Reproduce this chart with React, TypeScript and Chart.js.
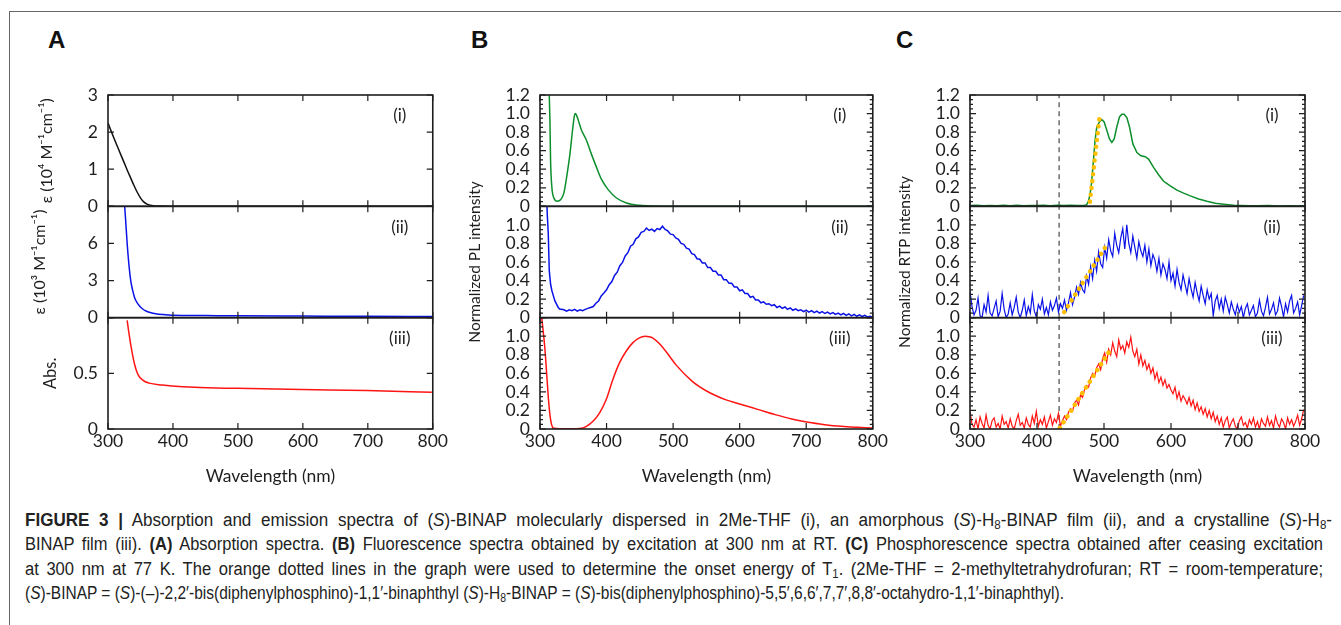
import React, { useEffect, useRef } from "react";
import { Chart, registerables } from "chart.js";

Chart.register(...registerables);

const FONT = "Lato, 'Open Sans', 'DejaVu Sans', sans-serif";
const INK = "#1e1e1e";

// ---------- shared wavelength axis ----------
const wlMin = 300;
const wlMax = 800;
const wlStep = 100;
const panelTags = ["(i)", "(ii)", "(iii)"];

// ---------- (A) absorption spectra [wavelength nm, value] ----------
const absThf: [number, number][] = [
  [300, 2.25], [305, 2.02], [310, 1.8], [315, 1.59], [320, 1.38], [325, 1.17], [330, 0.96],
  [335, 0.76], [340, 0.56], [345, 0.38], [350, 0.23], [355, 0.12], [360, 0.06], [365, 0.03],
  [370, 0.015], [380, 0.008], [400, 0.005], [450, 0.003], [500, 0.0], [800, 0.0],
];
const absAmorph: [number, number][] = [
  [325, 9.5], [327, 8.0], [329.5, 6.0], [332, 4.4], [335, 3.0], [338, 2.2], [341, 1.62],
  [345, 1.2], [348.5, 0.95], [353, 0.72], [358.5, 0.54], [365, 0.42], [373.5, 0.32],
  [385, 0.25], [398.5, 0.2], [450, 0.17], [500, 0.15], [600, 0.13], [700, 0.11], [800, 0.1],
];
const absCryst: [number, number][] = [
  [329.5, 0.975], [332, 0.871], [336, 0.725], [341, 0.579], [346, 0.491], [353.5, 0.439],
  [363.5, 0.412], [383.5, 0.395], [398.5, 0.386], [433.5, 0.374], [498.5, 0.365],
  [598.5, 0.354], [698.5, 0.345], [798.5, 0.33],
];

// ---------- (B) fluorescence spectra ----------
const plThf: [number, number][] = [
  [312.5, 1.5], [313.9, 1.2], [314.9, 0.93], [315.9, 0.49], [317.9, 0.2], [320.9, 0.09],
  [325.9, 0.055], [330.9, 0.07], [335.9, 0.145], [339.9, 0.31], [344.9, 0.56], [348.9, 0.82],
  [351.5, 0.97], [353, 1.0], [355, 0.98], [357.4, 0.93], [362.4, 0.82], [369.9, 0.71],
  [377.4, 0.56], [384.9, 0.42], [392.4, 0.29], [402.4, 0.18], [414.9, 0.09], [429.9, 0.036],
  [449.8, 0.011], [469.7, 0.004], [500, 0.002], [600, 0.0], [800, 0.0],
];
const plAmorphHead: [number, number][] = [
  [309.5, 1.4], [311, 1.1], [312.4, 0.91], [313.9, 0.51], [315.9, 0.36], [317.9, 0.29],
  [319.9, 0.24], [322.4, 0.18], [324.9, 0.145], [327.4, 0.11], [329.9, 0.09],
];
const plAmorphStart = 332;
const plAmorphStepNm = 4;
const plAmorph = [
  0.09, 0.085, 0.07, 0.085, 0.075, 0.09, 0.07, 0.085, 0.075, 0.09,
  0.10, 0.11, 0.12, 0.155, 0.18, 0.235, 0.265, 0.30, 0.355, 0.39,
  0.455, 0.49, 0.56, 0.595, 0.665, 0.70, 0.77, 0.79, 0.85, 0.87,
  0.92, 0.93, 0.965, 0.94, 0.955, 0.93, 0.96, 0.95, 0.985, 0.95,
  0.935, 0.90, 0.895, 0.86, 0.845, 0.80, 0.79, 0.75, 0.74, 0.69,
  0.68, 0.635, 0.63, 0.59, 0.59, 0.54, 0.54, 0.50, 0.50, 0.46,
  0.46, 0.41, 0.41, 0.37, 0.37, 0.33, 0.33, 0.29, 0.30, 0.26,
  0.26, 0.22, 0.23, 0.19, 0.19, 0.16, 0.17, 0.145, 0.15, 0.13,
  0.14, 0.11, 0.125, 0.10, 0.115, 0.09, 0.105, 0.08, 0.095, 0.075,
  0.085, 0.065, 0.08, 0.06, 0.075, 0.055, 0.07, 0.05, 0.065, 0.045,
  0.06, 0.04, 0.055, 0.035, 0.05, 0.03, 0.045, 0.025, 0.04, 0.02,
  0.035, 0.015, 0.03, 0.012, 0.025, 0.008, 0.015, 0.003,
];
const plCryst: [number, number][] = [
  [300, 1.3], [302.5, 1.2], [305, 1.04], [307.5, 0.856], [310, 0.6], [312.4, 0.35],
  [314.9, 0.155], [317.4, 0.047], [320.9, 0.007], [330, 0.003], [345, 0.002], [360, 0.005],
  [369.7, 0.029], [379.6, 0.083], [389.6, 0.173], [399.5, 0.317], [409.4, 0.532],
  [419.4, 0.712], [429.4, 0.838], [439.3, 0.928], [449.3, 0.982], [458, 1.0], [464, 0.995],
  [469.1, 0.982], [479.1, 0.921], [489, 0.838], [504, 0.694], [528.8, 0.514], [553.7, 0.396],
  [578.6, 0.317], [598.5, 0.273], [628.4, 0.209], [653.3, 0.155], [678.1, 0.108],
  [703, 0.072], [727.9, 0.047], [752.7, 0.029], [777.6, 0.018], [797.5, 0.011], [800, 0.01],
];

// ---------- (C) phosphorescence spectra ----------
const rtpThf: [number, number][] = [
  [300, 0.008], [310, 0.012], [320, 0.006], [330, 0.01], [340, 0.005], [350, 0.011],
  [360, 0.007], [370, 0.012], [380, 0.006], [390, 0.01], [400, 0.008], [410, 0.013],
  [420, 0.007], [430, 0.011], [440, 0.009], [450, 0.012], [460, 0.008], [470, 0.01],
  [474.2, 0.018], [476.7, 0.055], [479.2, 0.127], [481.7, 0.27], [484.2, 0.49], [486.7, 0.71],
  [489.2, 0.855], [493.2, 0.91], [496.7, 0.935], [500.2, 0.91], [504.2, 0.82], [508.2, 0.727],
  [511.7, 0.69], [515.2, 0.727], [519.1, 0.855], [523.1, 0.964], [526.6, 0.993], [530.1, 0.993],
  [534.1, 0.956], [538.1, 0.855], [543.1, 0.673], [549.1, 0.58], [555.1, 0.545], [561.5, 0.535],
  [566.5, 0.51], [574, 0.42], [581.5, 0.34], [589, 0.27], [598.9, 0.22], [608.9, 0.175],
  [618.8, 0.142], [628.8, 0.113], [641.2, 0.08], [653.6, 0.055], [666.1, 0.033], [678.5, 0.022],
  [693.4, 0.011], [705, 0.009], [718.3, 0.007], [730, 0.006], [745, 0.008], [760, 0.004],
  [775, 0.007], [790, 0.003], [800, 0.004],
];
const rtpStart = 300;
const rtpStepNm = 3;
const rtpAmorph = [
  0.28, 0.12, 0.03, 0.08, 0.21, 0.02, 0.00, 0.14, 0.06, 0.24,
  0.05, 0.02, 0.10, 0.18, 0.01, 0.07, 0.26, 0.09, 0.00, 0.04,
  0.16, 0.03, 0.11, 0.22, 0.06, 0.00, 0.08, 0.19, 0.02, 0.12,
  0.05, 0.25, 0.07, 0.01, 0.14, 0.09, 0.20, 0.04, 0.11, 0.03,
  0.17, 0.08, 0.13, 0.21, 0.06, 0.15, 0.10, 0.19, 0.08, 0.16,
  0.27, 0.14, 0.22, 0.33, 0.25, 0.38, 0.30, 0.27, 0.45, 0.36,
  0.55, 0.42, 0.62, 0.50, 0.71, 0.58, 0.54, 0.76, 0.64, 0.84,
  0.72, 0.66, 0.91, 0.78, 0.70, 0.86, 0.96, 0.74, 1.00, 0.80,
  0.70, 0.88, 0.76, 0.64, 0.82, 0.72, 0.66, 0.78, 0.60, 0.74,
  0.56, 0.68, 0.62, 0.50, 0.64, 0.46, 0.58, 0.52, 0.42, 0.60,
  0.40, 0.48, 0.34, 0.52, 0.38, 0.30, 0.46, 0.36, 0.26, 0.42,
  0.31, 0.22, 0.38, 0.27, 0.18, 0.34, 0.24, 0.15, 0.30, 0.20,
  0.26, 0.02, 0.18, 0.24, 0.10, 0.20, 0.07, 0.22, 0.14, 0.05,
  0.17, 0.09, 0.03, 0.14, 0.06, 0.12, 0.00, 0.10, 0.15, 0.03,
  0.08, 0.13, 0.01, 0.05, 0.19, 0.07, 0.02, 0.11, 0.22, 0.04,
  0.09, 0.16, 0.03, 0.07, 0.21, 0.12, 0.01, 0.15, 0.06, 0.18,
  0.24, 0.05, 0.10, 0.17, 0.03, 0.13, 0.24,
];
const rtpCryst = [
  0.19, 0.05, 0.02, 0.10, 0.00, 0.13, 0.06, 0.01, 0.15, 0.04,
  0.00, 0.09, 0.12, 0.02, 0.06, 0.00, 0.14, 0.05, 0.08, 0.01,
  0.11, 0.03, 0.00, 0.09, 0.16, 0.04, 0.07, 0.01, 0.12, 0.05,
  0.02, 0.14, 0.06, 0.19, 0.03, 0.10, 0.05, 0.13, 0.01, 0.08,
  0.15, 0.04, 0.11, 0.07, 0.17, 0.03, 0.09, 0.14, 0.10, 0.18,
  0.22, 0.19, 0.28, 0.31, 0.26, 0.37, 0.34, 0.43, 0.47, 0.45,
  0.55, 0.60, 0.57, 0.66, 0.70, 0.64, 0.76, 0.82, 0.72, 0.86,
  0.80, 0.93, 0.84, 0.78, 0.96, 0.86, 0.90, 0.82, 0.94, 0.88,
  0.99, 0.84, 0.78, 0.86, 0.70, 0.80, 0.68, 0.74, 0.64, 0.70,
  0.60, 0.66, 0.54, 0.61, 0.50, 0.56, 0.47, 0.53, 0.44, 0.48,
  0.42, 0.38, 0.45, 0.33, 0.40, 0.30, 0.36, 0.32, 0.27, 0.34,
  0.25, 0.31, 0.21, 0.28, 0.19, 0.24, 0.16, 0.22, 0.13, 0.20,
  0.11, 0.18, 0.08, 0.14, 0.05, 0.12, 0.02, 0.09, 0.13, 0.01,
  0.07, 0.11, 0.03, 0.00, 0.09, 0.13, 0.04, 0.07, 0.01, 0.10,
  0.05, 0.12, 0.02, 0.08, 0.00, 0.11, 0.06, 0.03, 0.13, 0.04,
  0.09, 0.01, 0.14, 0.06, 0.02, 0.11, 0.07, 0.00, 0.12, 0.05,
  0.10, 0.03, 0.08, 0.15, 0.04, 0.11, 0.21,
];
// orange onset fits and T1 onset marker
const onsetThf: [number, number][] = [[479, 0.05], [493, 0.94]];
const onsetAmorph: [number, number][] = [[440.5, 0.06], [506.5, 0.81]];
const onsetCryst: [number, number][] = [[434, 0.01], [511.5, 0.875]];
const t1OnsetNm = 433;

// ---------- colours ----------
const C_BLACK = "#111111";
const C_BLUE = "#0a12e6";
const C_RED = "#ff1414";
const C_GREEN = "#0c8f2c";
const C_ORANGE = "#ffbf00";
const C_DASH = "#555555";

const pairs = (arr: [number, number][]) => arr.map(([x, y]) => ({ x, y }));
const grid = (start: number, step: number, vals: number[]) =>
  vals.map((y, i) => ({ x: start + i * step, y }));

const fmt1 = (v: number) => (v === 0 ? "0" : v.toFixed(1));
const fmtInt = (v: number) => String(Math.round(v));
const fmtHalf = (v: number) => (v === 0 ? "0" : String(v));

type Panel = {
  id: string;
  min: number;
  max: number;
  step: number;
  hideTop: boolean;
  minor?: number;
  tag: string;
  fmt: (v: number) => string;
  title?: string;
  titlePad?: number;
  titleSize?: number;
};

type Column = {
  left: number;
  top: number;
  width: number;
  height: number;
  padTop: number;
  padRight: number;
  yWidth: number;
  xHeight: number;
  panels: Panel[];
  datasets: any[];
};

const line = (data: any[], color: string, yAxisID: string, smooth: boolean, extra: any = {}) => ({
  data,
  borderColor: color,
  backgroundColor: color,
  borderWidth: 1.5,
  pointRadius: 0,
  yAxisID,
  order: 1,
  tension: 0,
  cubicInterpolationMode: smooth ? "monotone" : "default",
  ...extra,
});

const onsetLine = (data: [number, number][], yAxisID: string) =>
  line(pairs(data), C_ORANGE, yAxisID, false, {
    borderWidth: 4.5,
    borderDash: [0.1, 6.8],
    borderCapStyle: "round",
    order: 0,
  });

const dashLine = (yAxisID: string) =>
  line(pairs([[t1OnsetNm, 0], [t1OnsetNm, 1.2]]), C_DASH, yAxisID, false, {
    borderWidth: 1.3,
    borderDash: [5, 4],
    order: 2,
  });

const colA: Column = {
  left: 30, top: 60, width: 420, height: 430,
  padTop: 35, padRight: 9, yWidth: 78, xHeight: 61,
  panels: [
    { id: "y1", min: 0, max: 3, step: 1, hideTop: false, tag: panelTags[0], fmt: fmtInt,
      title: "ε (10⁴ M⁻¹cm⁻¹)", titlePad: 7, titleSize: 16 },
    { id: "y2", min: 0, max: 9, step: 3, hideTop: true, tag: panelTags[1], fmt: fmtInt,
      title: "ε (10³ M⁻¹cm⁻¹)", titlePad: 0, titleSize: 16 },
    { id: "y3", min: 0, max: 1, step: 0.5, hideTop: true, tag: panelTags[2], fmt: fmtHalf,
      title: "Abs.", titlePad: 11, titleSize: 16.5 },
  ],
  datasets: [
    line(pairs(absThf), C_BLACK, "y1", true),
    line(pairs(absAmorph), C_BLUE, "y2", true),
    line(pairs(absCryst), C_RED, "y3", true),
  ],
};

const colB: Column = {
  left: 460, top: 60, width: 430, height: 430,
  padTop: 35, padRight: 15, yWidth: 80, xHeight: 61,
  panels: [
    { id: "y1", min: 0, max: 1.2, step: 0.2, hideTop: false, minor: 0.05, tag: panelTags[0], fmt: fmt1 },
    { id: "y2", min: 0, max: 1.2, step: 0.2, hideTop: true, minor: 0.05, tag: panelTags[1], fmt: fmt1,
      title: "Normalized PL intensity", titlePad: 6, titleSize: 15.5 },
    { id: "y3", min: 0, max: 1.2, step: 0.2, hideTop: true, minor: 0.05, tag: panelTags[2], fmt: fmt1 },
  ],
  datasets: [
    line(pairs(plThf), C_GREEN, "y1", true),
    line([...pairs(plAmorphHead), ...grid(plAmorphStart, plAmorphStepNm, plAmorph)], C_BLUE, "y2", false),
    line(pairs(plCryst), C_RED, "y3", true),
  ],
};

const colC: Column = {
  left: 890, top: 60, width: 440, height: 430,
  padTop: 35, padRight: 25, yWidth: 80, xHeight: 61,
  panels: [
    { id: "y1", min: 0, max: 1.2, step: 0.2, hideTop: false, minor: 0.05, tag: panelTags[0], fmt: fmt1 },
    { id: "y2", min: 0, max: 1.2, step: 0.2, hideTop: true, minor: 0.05, tag: panelTags[1], fmt: fmt1,
      title: "Normalized RTP intensity", titlePad: 6, titleSize: 15.5 },
    { id: "y3", min: 0, max: 1.2, step: 0.2, hideTop: true, minor: 0.05, tag: panelTags[2], fmt: fmt1 },
  ],
  datasets: [
    onsetLine(onsetThf, "y1"),
    onsetLine(onsetAmorph, "y2"),
    onsetLine(onsetCryst, "y3"),
    line(pairs(rtpThf), C_GREEN, "y1", false),
    line(grid(rtpStart, rtpStepNm, rtpAmorph), C_BLUE, "y2", false, { borderWidth: 1.2 }),
    line(grid(rtpStart, rtpStepNm, rtpCryst), C_RED, "y3", false, { borderWidth: 1.2 }),
    dashLine("y1"),
    dashLine("y2"),
    dashLine("y3"),
  ],
};

const panelFrames = {
  id: "panelFrames",
  afterDatasetsDraw(chart: any, _args: any, opts: any) {
    const ctx = chart.ctx as CanvasRenderingContext2D;
    const xs = chart.scales.x;
    ctx.save();
    ctx.strokeStyle = INK;
    for (const p of (opts.panels || []) as Panel[]) {
      const ys = chart.scales[p.id];
      const L = xs.left, R = xs.right, T = ys.top, B = ys.bottom;
      ctx.lineWidth = 1.2;
      ctx.beginPath();
      for (const t of ys.ticks) {
        const y = ys.getPixelForValue(t.value);
        ctx.moveTo(L, y); ctx.lineTo(L + 6, y);
        ctx.moveTo(R, y); ctx.lineTo(R - 6, y);
      }
      if (p.minor) {
        const n = Math.round((ys.max - ys.min) / p.minor);
        for (let k = 1; k < n; k++) {
          const y = ys.getPixelForValue(ys.min + k * p.minor);
          ctx.moveTo(L, y); ctx.lineTo(L + 3, y);
          ctx.moveTo(R, y); ctx.lineTo(R - 3, y);
        }
      }
      for (const t of xs.ticks) {
        const x = xs.getPixelForValue(t.value);
        ctx.moveTo(x, T); ctx.lineTo(x, T + 6);
        ctx.moveTo(x, B); ctx.lineTo(x, B - 6);
      }
      ctx.stroke();
      ctx.lineWidth = 1.6;
      ctx.strokeRect(L, T, R - L, B - T);
      ctx.fillStyle = "#222";
      ctx.font = `17px ${FONT}`;
      ctx.textAlign = "center";
      ctx.textBaseline = "middle";
      ctx.fillText(p.tag, R - 33, T + 21);
    }
    ctx.restore();
  },
};

function makeChart(canvas: HTMLCanvasElement, col: Column) {
  const scales: any = {
    x: {
      type: "linear",
      position: "bottom",
      min: wlMin,
      max: wlMax,
      ticks: {
        stepSize: wlStep,
        font: { size: 17.5, family: FONT },
        color: INK,
        padding: 2,
        autoSkip: false,
        maxRotation: 0,
        callback: (v: number) => String(v),
      },
      grid: { display: false, drawTicks: false },
      border: { display: false },
      title: {
        display: true,
        text: "Wavelength (nm)",
        font: { size: 17.5, family: FONT },
        color: INK,
        padding: { top: 0, bottom: 3 },
      },
      afterFit: (s: any) => { s.height = col.xHeight; },
    },
  };
  // bottom panel first so that the top panel is stacked uppermost
  [...col.panels].reverse().forEach((p) => {
    scales[p.id] = {
      type: "linear",
      position: "left",
      stack: "col",
      stackWeight: 1,
      min: p.min,
      max: p.max,
      ticks: {
        stepSize: p.step,
        autoSkip: false,
        font: { size: 17.5, family: FONT },
        color: INK,
        padding: 10,
        callback: (v: number) => (p.hideTop && Math.abs(v - p.max) < 1e-9 ? "" : p.fmt(v)),
      },
      grid: { display: false, drawTicks: false },
      border: { display: false },
      title: p.title
        ? {
            display: true,
            text: p.title,
            font: { size: p.titleSize ?? 16, family: FONT },
            color: INK,
            padding: { top: p.titlePad ?? 0, bottom: 0 },
          }
        : { display: false },
      afterFit: (s: any) => { s.width = col.yWidth; },
    };
  });

  return new Chart(canvas, {
    type: "line",
    data: { datasets: col.datasets },
    options: {
      animation: false,
      responsive: false,
      maintainAspectRatio: false,
      devicePixelRatio: 1,
      events: [],
      layout: { padding: { left: 0, top: col.padTop, right: col.padRight, bottom: 0 } },
      plugins: {
        legend: { display: false },
        tooltip: { enabled: false },
        panelFrames: { panels: col.panels },
      } as any,
      scales,
    },
    plugins: [panelFrames as any],
  });
}

const sub = { fontSize: "0.68em", verticalAlign: "-0.28em", lineHeight: 0 } as const;

// caption line layout: top y of each line, right edge x of each line
const captionTops = [510, 534.3, 558.6, 582.9];
const captionRight = [1332, 1323, 1323, 1064];
const captionLeft = 25;

export default function App() {
  const refA = useRef<HTMLCanvasElement>(null);
  const refB = useRef<HTMLCanvasElement>(null);
  const refC = useRef<HTMLCanvasElement>(null);
  const lineRefs = [
    useRef<HTMLSpanElement>(null),
    useRef<HTMLSpanElement>(null),
    useRef<HTMLSpanElement>(null),
    useRef<HTMLSpanElement>(null),
  ];

  useEffect(() => {
    Chart.defaults.font.family = FONT;
    const charts = [
      makeChart(refA.current!, colA),
      makeChart(refB.current!, colB),
      makeChart(refC.current!, colC),
    ];
    return () => charts.forEach((c) => c.destroy());
  }, []);

  useEffect(() => {
    // last line: plain condensation to its width; lines 1-3: half-way condensation,
    // the rest of the justification taken up by word spacing
    const els = lineRefs.map((r) => r.current);
    if (els.some((e) => !e)) return;
    const w4 = els[3]!.getBoundingClientRect().width;
    if (w4 <= 0) return;
    const k4 = (captionRight[3] - captionLeft) / w4;
    els.forEach((el, i) => {
      const e = el!;
      const w = e.getBoundingClientRect().width;
      const target = captionRight[i] - captionLeft;
      let k = target / w;
      if (i < 3) {
        k = (k + k4) / 2;
        const spaces = ((e.textContent || "").match(/ /g) || []).length;
        const extra = target / k - w;
        if (spaces > 0) e.style.wordSpacing = `${extra / spaces}px`;
      }
      e.style.transform = `scaleX(${k})`;
    });
  }, []);

  const cols = [
    { ref: refA, c: colA },
    { ref: refB, c: colB },
    { ref: refC, c: colC },
  ];

  const letter = (t: string, left: number) => (
    <div
      style={{
        position: "absolute", left, top: 28, fontFamily: "'Liberation Sans', Arial, sans-serif",
        fontWeight: 700, fontSize: 24, lineHeight: "24px", color: "#111",
      }}
    >
      {t}
    </div>
  );

  const capLine = (i: number, content: React.ReactNode) => (
    <div
      style={{
        position: "absolute", left: captionLeft, top: captionTops[i], whiteSpace: "nowrap",
        lineHeight: "20px", fontFamily: "'Liberation Sans', Arial, sans-serif", fontSize: 18,
        color: "#222",
      }}
    >
      <span ref={lineRefs[i]} style={{ display: "inline-block", transformOrigin: "0 0" }}>
        {content}
      </span>
    </div>
  );

  return (
    <div
      style={{
        position: "absolute", left: 0, top: 0, width: 1341, height: 625,
        background: "#fff", overflow: "hidden",
      }}
    >
      <div
        style={{
          position: "absolute", left: 9, top: 11, width: 1400, height: 700,
          borderLeft: "1.5px solid #666", borderTop: "1.5px solid #666",
        }}
      />
      {letter("A", 48)}
      {letter("B", 471)}
      {letter("C", 896)}
      {cols.map(({ ref, c }, i) => (
        <canvas
          key={i}
          ref={ref}
          width={c.width}
          height={c.height}
          style={{ position: "absolute", left: c.left, top: c.top, width: c.width, height: c.height }}
        />
      ))}
      {capLine(0, (
        <>
          <b>FIGURE 3 |</b> Absorption and emission spectra of (<i>S</i>)-BINAP molecularly dispersed in
          2Me-THF (i), an amorphous (<i>S</i>)-H<sub style={sub}>8</sub>-BINAP film (ii), and a crystalline
          (<i>S</i>)-H<sub style={sub}>8</sub>-
        </>
      ))}
      {capLine(1, (
        <>
          BINAP film (iii). <b>(A)</b> Absorption spectra. <b>(B)</b> Fluorescence spectra obtained by
          excitation at 300 nm at RT. <b>(C)</b> Phosphorescence spectra obtained after ceasing excitation
        </>
      ))}
      {capLine(2, (
        <>
          at 300 nm at 77 K. The orange dotted lines in the graph were used to determine the onset energy of
          T<sub style={sub}>1</sub>. (2Me-THF = 2-methyltetrahydrofuran; RT = room-temperature;
        </>
      ))}
      {capLine(3, (
        <>
          (<i>S</i>)-BINAP = (<i>S</i>)-(–)-2,2′-bis(diphenylphosphino)-1,1′-binaphthyl (<i>S</i>)-H
          <sub style={sub}>8</sub>-BINAP = (<i>S</i>)-bis(diphenylphosphino)-5,5′,6,6′,7,7′,8,8′-octahydro-1,1′-binaphthyl).
        </>
      ))}
    </div>
  );
}
